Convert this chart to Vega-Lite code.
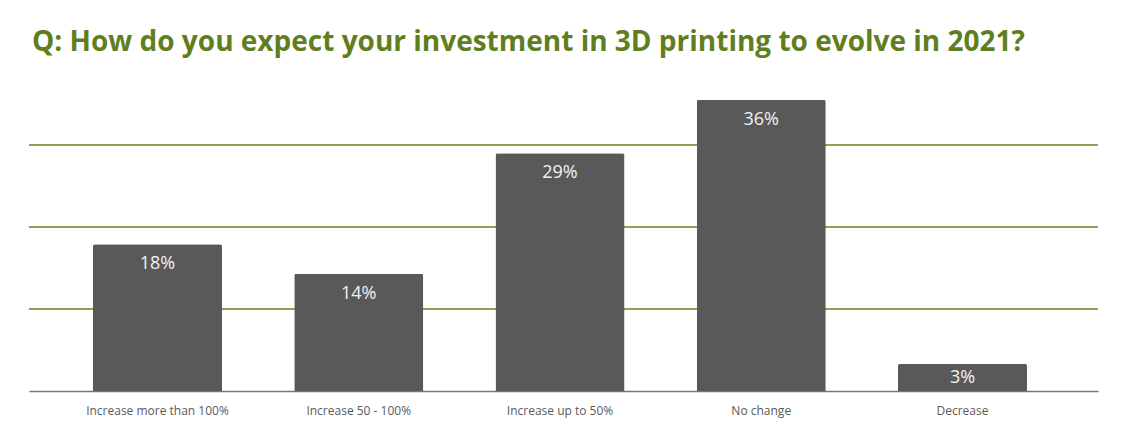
{
  "$schema": "https://vega.github.io/schema/vega-lite/v6.json",
  "width": 1069,
  "height": 328,
  "autosize": {"type": "none"},
  "padding": {"left": 29, "right": 35, "top": 63, "bottom": 52},
  "background": "white",
  "config": {"view": {"stroke": null}},
  "title": {
    "text": "Q: How do you expect your investment in 3D printing to evolve in 2021?",
    "anchor": "start",
    "frame": "group",
    "font": "Open Sans",
    "fontSize": 28,
    "fontWeight": "bold",
    "color": "#5f7f1f",
    "dx": 3,
    "offset": 6
  },
  "datasets": {
    "bars": [
      {"answer": "Increase more than 100%", "pct": 17.9, "label": "18%"},
      {"answer": "Increase 50 - 100%", "pct": 14.3, "label": "14%"},
      {"answer": "Increase up to 50%", "pct": 29.0, "label": "29%"},
      {"answer": "No change", "pct": 35.5, "label": "36%"},
      {"answer": "Decrease", "pct": 3.3, "label": "3%"}
    ],
    "grid": [{"pct": 10}, {"pct": 20}, {"pct": 30}]
  },
  "layer": [
    {
      "data": {"name": "grid"},
      "mark": {"type": "rule", "color": "#638419", "strokeWidth": 1.3},
      "encoding": {
        "y": {"field": "pct", "type": "quantitative", "scale": {"domain": [0, 40], "nice": false}, "axis": null}
      }
    },
    {
      "data": {"name": "bars"},
      "encoding": {
        "x": {
          "field": "answer",
          "type": "nominal",
          "sort": null,
          "scale": {"paddingInner": 0.359, "paddingOuter": 0.3354, "align": 0.474},
          "axis": {
            "title": null,
            "labelAngle": 0,
            "labelFont": "Open Sans",
            "labelFontSize": 12,
            "labelColor": "#5a5a5a",
            "labelPadding": 14,
            "ticks": false,
            "domainColor": "#777777",
            "domainWidth": 1.5
          }
        },
        "y": {
          "field": "pct",
          "type": "quantitative",
          "scale": {"domain": [0, 40], "nice": false},
          "axis": null
        }
      },
      "layer": [
        {
          "mark": {"type": "bar", "color": "#595959", "cornerRadiusTopLeft": 2, "cornerRadiusTopRight": 2}
        },
        {
          "transform": [{"filter": "datum.pct > 5"}],
          "mark": {"type": "text", "baseline": "middle", "dy": 20, "font": "Open Sans", "fontSize": 18, "color": "#f2f2f2"},
          "encoding": {"text": {"field": "label"}}
        },
        {
          "transform": [{"filter": "datum.pct <= 5"}],
          "mark": {"type": "text", "baseline": "middle", "dy": 14, "font": "Open Sans", "fontSize": 18, "color": "#f2f2f2"},
          "encoding": {"text": {"field": "label"}}
        }
      ]
    }
  ]
}
